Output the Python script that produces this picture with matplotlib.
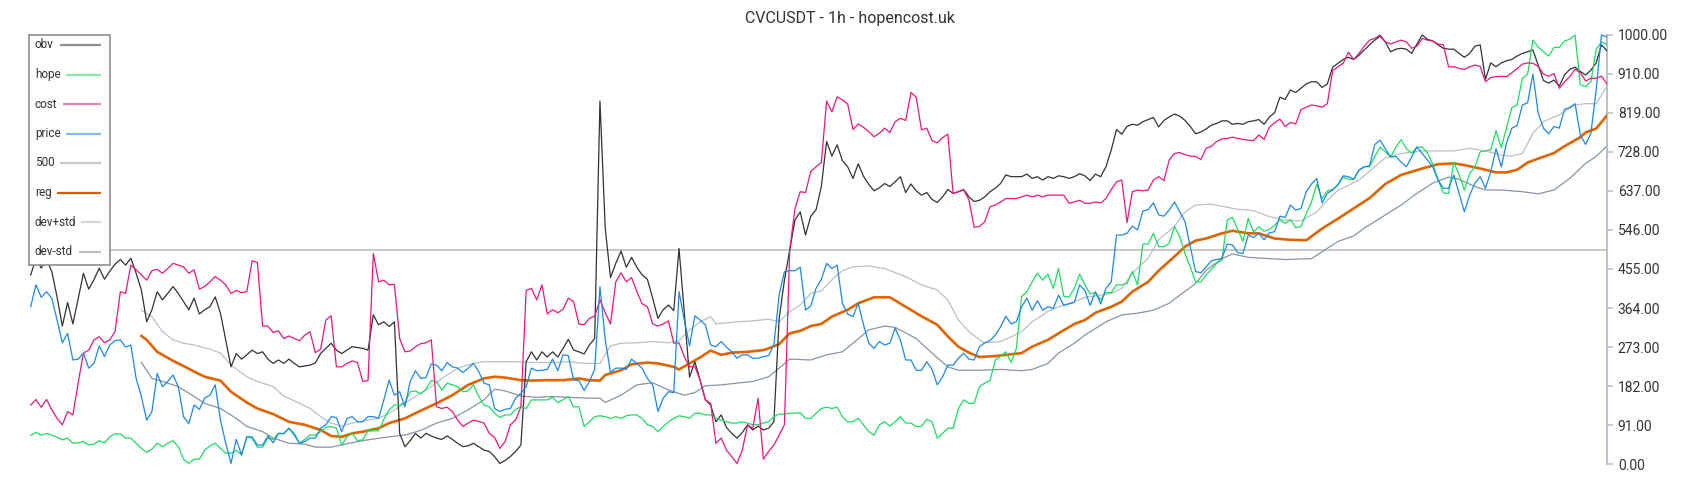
import numpy as np
import matplotlib.pyplot as plt
from matplotlib.patches import Rectangle

plt.rcParams['font.family'] = ['Roboto', 'DejaVu Sans']

title = 'CVCUSDT - 1h - hopencost.uk'
yticks = [0, 91, 182, 273, 364, 455, 546, 637, 728, 819, 910, 1000]
level_500 = 500

# hourly series, 300 candles
obv = [441, 480, 457, 477, 449, 390, 322, 377, 327, 385, 445, 408, 430, 457, 431, 450, 466, 477, 464, 480,
       445, 406, 332, 360, 402, 383, 398, 414, 398, 379, 360, 387, 350, 360, 367, 390, 352, 290, 227, 258,
       245, 255, 266, 258, 262, 245, 235, 243, 235, 245, 235, 227, 229, 231, 236, 258, 270, 282, 266, 258,
       266, 274, 272, 270, 266, 348, 325, 332, 321, 332, 72, 41, 55, 72, 61, 72, 66, 61,
       58, 66, 58, 49, 41, 43, 49, 41, 33, 30, 18, 2, 9, 18, 30, 45, 239, 262, 243, 262,
       250, 262, 250, 270, 291, 266, 262, 257, 278, 293, 846, 550, 435, 468, 497, 459, 482, 459, 441, 431,
       387, 340, 360, 371, 358, 503, 352, 203, 239, 196, 150, 138, 99, 115, 86, 72, 61, 74, 92, 80,
       89, 80, 84, 99, 340, 429, 499, 569, 588, 534, 578, 593, 647, 752, 718, 744,
       707, 693, 666, 700, 671, 652, 637, 644, 654, 647, 658, 670, 633, 653, 637, 627, 633, 617, 610, 623,
       640, 631, 635, 640, 623, 612, 615, 623, 635, 643, 654, 674, 670, 670, 670, 676, 666, 670, 662, 670,
       666, 672, 670, 666, 670, 677, 672, 661, 676, 670, 693, 732, 780, 769, 787, 792, 790, 798, 803, 808,
       786, 801, 809, 816, 811, 801, 787, 770, 774, 781, 790, 794, 800, 800, 792,
       794, 792, 798, 800, 803, 792, 809, 819, 855, 850, 872, 866, 876, 886, 891, 891, 878, 886, 925, 934,
       943, 948, 943, 953, 965, 977, 988, 997, 984, 961, 967, 969, 967, 957, 979, 1000, 990, 986, 977, 969,
       967, 967, 957, 948, 957, 974, 977, 897, 935, 926, 935, 940, 943, 951, 957, 961, 965, 930, 894, 888,
       895, 881, 907, 920, 925, 915, 907, 918, 935, 977, 964]

hope = [68, 74, 68, 72, 68, 63, 57, 61, 49, 50, 53, 45, 47, 55, 50, 64, 71, 71, 61, 61,
        49, 37, 28, 35, 49, 41, 49, 55, 41, 12, 2, 12, 12, 33, 43, 49, 37, 26, 26, 33,
        22, 63, 61, 40, 40, 61, 58, 72, 72, 84, 72, 49, 58, 68, 68, 76, 86, 88, 84, 45,
        64, 72, 55, 57, 78, 78, 78, 105, 127, 138, 138, 144, 169, 171, 164, 175, 195, 193,
        173, 189, 185, 181, 169, 171, 185, 158, 138, 134, 119, 109, 115, 115, 128, 134, 130, 150, 150, 150,
        150, 156, 144, 150, 158, 134, 134, 88, 99, 111, 113, 111, 107, 111, 107, 113, 115, 115, 107, 92,
        88, 76, 88, 99, 107, 113, 111, 107, 119, 119, 115, 115, 107, 103, 99, 96, 96, 99, 96, 92,
        92, 96, 99, 111, 117, 117, 119, 119, 120, 107, 107, 119, 130, 133, 130, 133,
        111, 99, 99, 107, 92, 76, 68, 92, 99, 89, 99, 111, 96, 96, 88, 88, 105, 99, 61, 72,
        84, 84, 130, 150, 142, 142, 181, 189, 195, 243, 251, 262, 237, 270, 391, 402, 425, 445, 429, 443,
        410, 456, 391, 390, 410, 443, 418, 397, 400, 383, 400, 400, 418, 418, 421, 449, 418, 513, 513, 538,
        507, 507, 515, 554, 530, 491, 460, 425, 425, 441, 454, 468, 476, 569, 575,
        547, 519, 573, 541, 553, 543, 547, 557, 570, 561, 570, 551, 554, 584, 611, 653, 619, 637, 640, 651,
        669, 664, 664, 685, 693, 693, 717, 739, 728, 716, 739, 756, 735, 725, 739, 739, 725, 699, 664, 632,
        631, 704, 674, 639, 677, 693, 728, 730, 733, 777, 738, 785, 831, 837, 899, 909, 988, 972, 961, 951,
        971, 971, 986, 990, 1000, 884, 880, 891, 967, 983, 979]

cost = [138, 151, 133, 151, 127, 107, 92, 123, 115, 189, 259, 266, 290, 297, 283, 290, 309, 402, 398, 464,
        453, 441, 429, 451, 454, 445, 456, 468, 464, 460, 445, 453, 408, 414, 425, 437, 429, 418, 398, 405,
        400, 402, 474, 470, 322, 322, 307, 311, 293, 299, 293, 288, 301, 309, 260, 268, 336, 346, 227, 227,
        235, 241, 237, 193, 195, 491, 425, 429, 418, 419, 293, 262, 264, 274, 281, 283, 290, 134,
        130, 133, 123, 103, 88, 96, 103, 100, 96, 72, 63, 37, 53, 92, 103, 134, 405, 410, 383, 418,
        350, 360, 353, 361, 387, 379, 327, 325, 340, 345, 383, 353, 327, 425, 446, 425, 435, 402, 374, 367,
        327, 322, 327, 334, 282, 283, 251, 227, 228, 196, 150, 142, 49, 61, 33, 18, 2, 33, 92, 84,
        154, 12, 30, 45, 68, 92, 499, 596, 635, 633, 682, 693, 703, 846, 821, 856,
        849, 839, 780, 793, 785, 775, 763, 771, 783, 773, 798, 806, 801, 866, 855, 779, 783, 754, 749, 761,
        769, 631, 635, 639, 616, 552, 554, 565, 600, 604, 611, 619, 619, 619, 623, 627, 623, 627, 623, 627,
        627, 627, 627, 608, 611, 615, 608, 608, 611, 609, 619, 640, 658, 662, 563, 635, 639, 637, 639, 662,
        670, 661, 709, 724, 726, 721, 718, 717, 710, 736, 741, 752, 758, 759, 762,
        759, 757, 755, 754, 767, 757, 785, 796, 804, 787, 796, 793, 826, 832, 837, 835, 832, 840, 917, 926,
        934, 960, 943, 957, 974, 988, 992, 1000, 984, 979, 984, 988, 984, 969, 974, 992, 988, 986, 979, 977,
        926, 926, 922, 920, 926, 930, 927, 891, 901, 903, 904, 903, 912, 922, 932, 935, 934, 927, 909, 904,
        910, 876, 891, 903, 920, 912, 893, 899, 899, 904, 887]

price = [367, 418, 389, 402, 387, 336, 283, 305, 243, 245, 259, 224, 235, 276, 251, 278, 288, 290, 273, 278,
         200, 158, 103, 123, 212, 181, 193, 208, 181, 111, 95, 138, 128, 154, 161, 185, 103, 49, 2, 58,
         22, 64, 64, 45, 45, 66, 50, 72, 71, 84, 68, 49, 53, 61, 61, 84, 92, 111, 109, 76,
         107, 111, 99, 99, 111, 111, 107, 150, 196, 161, 169, 134, 193, 218, 200, 202, 234, 231,
         218, 237, 227, 224, 214, 224, 235, 216, 189, 185, 130, 123, 128, 130, 154, 165, 181, 224, 218, 219,
         221, 245, 218, 255, 253, 196, 195, 172, 193, 221, 414, 290, 214, 224, 224, 221, 245, 235, 224, 200,
         185, 123, 154, 169, 167, 402, 336, 276, 346, 336, 325, 278, 274, 286, 273, 262, 247, 255, 255, 247,
         247, 251, 253, 278, 395, 449, 451, 451, 459, 359, 369, 410, 431, 468, 456, 464,
         375, 350, 344, 375, 325, 282, 270, 286, 278, 282, 317, 290, 243, 243, 219, 219, 239, 221, 185, 204,
         231, 231, 247, 259, 245, 243, 274, 283, 288, 301, 320, 345, 327, 332, 367, 387, 359, 381, 359, 367,
         363, 394, 370, 374, 377, 418, 405, 370, 402, 374, 410, 425, 534, 534, 538, 555, 546, 590, 593, 609,
         581, 578, 592, 611, 588, 565, 507, 449, 446, 460, 474, 477, 480, 513, 511,
         493, 491, 534, 528, 538, 523, 539, 542, 578, 575, 604, 592, 596, 635, 653, 666, 609, 631, 639, 651,
         672, 670, 664, 685, 693, 695, 745, 755, 735, 716, 717, 704, 693, 716, 739, 724, 709, 693, 662, 643,
         643, 674, 631, 588, 627, 655, 670, 643, 681, 735, 693, 749, 783, 789, 837, 842, 909, 818, 783, 770,
         787, 783, 827, 831, 840, 767, 745, 771, 872, 1000, 996]

# regression line and bands (candle index, value)
reg_i = [21, 22, 24, 27, 29, 31, 33, 36, 38, 41, 43, 46, 49, 52, 55, 57, 59, 61, 63, 66,
         68, 71, 74, 77, 80, 83, 86, 88, 90, 93, 95, 98, 101, 104, 106, 108, 109, 112, 114, 117,
         119, 122, 123, 125, 127, 129, 131, 133, 136, 139, 140, 142, 144, 146, 148, 150, 152, 155, 157, 160,
         163, 166, 169, 172, 174, 176, 178, 180, 183, 185, 188, 190, 193, 195, 198, 200, 202, 205, 207, 209,
         212, 214, 217, 219, 221, 223, 226, 228, 231, 233, 236, 239, 242, 245, 248, 251, 254, 257, 260, 264,
         267, 270, 272, 275, 278, 280, 282, 284, 286, 289, 291, 294, 295, 297, 299]
reg_v = [299, 290, 262, 241, 229, 216, 204, 195, 169, 144, 130, 117, 99, 92, 80, 66, 64, 72, 76, 84,
         96, 107, 125, 142, 161, 185, 200, 204, 202, 196, 195, 196, 196, 200, 196, 195, 208, 219, 233, 237,
         235, 227, 221, 235, 249, 265, 255, 260, 262, 266, 270, 280, 305, 311, 322, 327, 344, 360, 375, 389,
         389, 367, 345, 325, 298, 274, 260, 250, 252, 255, 259, 274, 290, 305, 327, 336, 353, 367, 379, 402,
         425, 451, 484, 507, 521, 526, 538, 544, 538, 538, 526, 523, 522, 549, 572, 596, 620, 653, 674, 689,
         699, 701, 697, 689, 680, 680, 686, 703, 712, 725, 741, 762, 773, 782, 812]

hi_i = [21, 23, 25, 27, 29, 31, 34, 36, 38, 41, 43, 46, 48, 51, 53, 55, 57, 59, 61, 64,
        66, 68, 71, 74, 76, 78, 81, 84, 86, 89, 92, 95, 99, 102, 105, 108, 110, 112, 115, 118,
        121, 123, 125, 127, 129, 130, 134, 137, 140, 142, 144, 146, 148, 150, 152, 154, 156, 159, 162, 166,
        169, 172, 174, 176, 178, 180, 181, 184, 186, 188, 190, 193, 195, 198, 200, 203, 205, 207, 209, 212,
        214, 217, 219, 221, 224, 226, 229, 232, 235, 238, 241, 244, 246, 248, 252, 255, 257, 260, 264, 267,
        270, 273, 276, 279, 281, 283, 285, 287, 290, 293, 295, 297, 299]
hi_v = [359, 344, 309, 290, 282, 278, 268, 259, 231, 204, 193, 181, 159, 142, 130, 111, 96, 89, 96, 103,
        107, 119, 142, 166, 181, 200, 224, 235, 239, 239, 239, 237, 237, 239, 235, 235, 276, 282, 283, 286,
        283, 288, 313, 332, 344, 327, 332, 334, 338, 332, 356, 371, 398, 404, 430, 451, 460, 462, 456, 437,
        418, 406, 383, 336, 309, 290, 283, 286, 297, 309, 332, 356, 367, 379, 389, 394, 398, 410, 445, 480,
        523, 554, 588, 604, 606, 601, 594, 591, 577, 569, 567, 588, 615, 638, 662, 693, 714, 724, 730, 730,
        730, 736, 730, 720, 718, 724, 771, 798, 814, 837, 840, 840, 879]

lo_i = [21, 23, 25, 28, 31, 33, 36, 39, 41, 44, 46, 49, 52, 54, 57, 59, 62, 64, 68, 71,
        74, 77, 80, 83, 86, 88, 90, 93, 96, 99, 102, 106, 108, 109, 112, 115, 118, 121, 124, 126,
        128, 131, 134, 137, 140, 142, 144, 148, 151, 154, 156, 159, 162, 164, 168, 171, 174, 176, 180, 184,
        188, 190, 193, 195, 198, 200, 204, 207, 210, 213, 216, 218, 221, 223, 226, 228, 231, 235, 238, 243,
        245, 248, 251, 253, 256, 260, 263, 266, 269, 271, 274, 276, 279, 283, 286, 289, 292, 295, 297, 299]
lo_v = [237, 200, 193, 181, 158, 142, 130, 107, 88, 76, 61, 49, 47, 40, 40, 45, 53, 57, 64, 68,
        79, 96, 107, 127, 150, 175, 171, 159, 156, 158, 156, 154, 154, 144, 161, 185, 190, 173, 161, 167,
        183, 185, 189, 193, 204, 224, 245, 243, 255, 262, 282, 313, 322, 319, 293, 259, 227, 219, 219, 221,
        218, 221, 235, 259, 282, 301, 332, 348, 352, 359, 375, 394, 421, 452, 479, 490, 482, 479, 477, 479,
        495, 519, 532, 550, 573, 604, 631, 655, 669, 664, 647, 639, 639, 635, 630, 639, 666, 701, 717, 741]

n = len(price)
x = np.arange(n)

c_obv, c_hope, c_cost, c_price = '#333333', '#1ddc63', '#e6197f', '#1e88e5'
c_500, c_reg, c_hi, c_lo = '#c8c8c8', '#e06400', '#b7c0c9', '#8795a3'
axis_c = '#b4bcc4'

fig = plt.figure(figsize=(17, 5), dpi=100)
ax = fig.add_axes([30.7/1700, 35.7/500, 1576/1700, 429.3/500])

ax.axhline(level_500, color=c_500, lw=1.4, zorder=1)
ax.plot(hi_i, hi_v, color=c_hi, lw=0.9, zorder=2)
ax.plot(lo_i, lo_v, color=c_lo, lw=0.9, zorder=2)
ax.plot(reg_i, reg_v, color=c_reg, lw=1.9, zorder=3)
ax.plot(x, obv, color=c_obv, lw=0.9, zorder=4, clip_on=False)
ax.plot(x, hope, color=c_hope, lw=0.9, zorder=4, clip_on=False)
ax.plot(x, cost, color=c_cost, lw=0.9, zorder=4, clip_on=False)
ax.plot(x, price, color=c_price, lw=0.9, zorder=4, clip_on=False)

ax.set_xlim(0, n - 1)
ax.set_ylim(0, 1000)
for s in ['left', 'top', 'bottom']:
    ax.spines[s].set_visible(False)
ax.spines['right'].set_color(axis_c)
ax.spines['right'].set_linewidth(1.3)
ax.yaxis.tick_right()
ax.set_yticks(yticks)
ax.set_yticklabels(['%.2f' % v for v in yticks])
ax.tick_params(axis='y', length=4, width=1.1, color=axis_c, pad=4, labelsize=10, labelcolor='#333333')
ax.tick_params(axis='x', bottom=False, labelbottom=False)

fig.text(0.5, 1 - 19/500, title, ha='center', va='center', fontsize=11.5, color='#333333')

# legend drawn in pixel coordinates on an overlay
lg = fig.add_axes([0, 0, 1, 1], zorder=10)
lg.set_xlim(0, 1700)
lg.set_ylim(500, 0)
lg.axis('off')
lg.add_patch(Rectangle((29.5, 34.5), 81, 230, facecolor='white', edgecolor='#8f8f8f', lw=1.2))
entries = [('obv', c_obv, 0.55, 60), ('hope', c_hope, 0.55, 66), ('cost', c_cost, 0.55, 63),
           ('price', c_price, 0.55, 66), ('500', c_500, 1, 60), ('reg', '#d45f00', 1, 57),
           ('dev+std', c_hi, 0.6, 81), ('dev-std', c_lo, 0.6, 79)]
for k, (lab, col, a, x0) in enumerate(entries):
    yy = 45 + 29.5*k
    lg.text(35, yy, lab, ha='left', va='center', fontsize=8.5, color='#333333')
    lg.plot([x0, 101], [yy, yy], color=col, alpha=a, lw=1.6, solid_capstyle='butt')

fig.savefig('out.png', dpi=100)
